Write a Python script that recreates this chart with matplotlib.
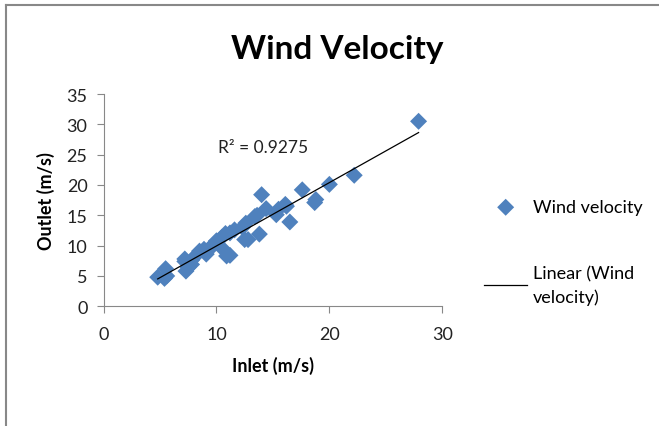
import numpy as np
import matplotlib
matplotlib.use("Agg")
import matplotlib.pyplot as plt
from matplotlib.lines import Line2D

plt.rcParams['font.family'] = ['Lato', 'DejaVu Sans']

inlet = [4.8, 5.5, 5.4, 5.6, 7.2, 7.3, 7.5, 7.2, 7.8, 7.8, 8.2, 8.5, 8.9, 9.1,
         9.4, 9.7, 10.0, 10.1, 10.5, 10.6, 10.8, 10.9, 11.2, 11.2, 11.6, 12.3,
         12.5, 12.6, 12.8, 13.4, 13.6, 13.8, 14.0, 14.4, 15.3, 15.5, 16.1,
         16.2, 16.5, 17.6, 18.7, 18.8, 20.0, 22.2, 27.9]
outlet = [4.8, 6.2, 4.6, 5.0, 7.8, 5.8, 6.4, 7.4, 6.9, 7.6, 8.4, 9.1, 9.4, 8.6,
          9.6, 10.0, 10.8, 10.7, 11.4, 9.4, 12.0, 8.3, 12.1, 8.4, 12.6, 13.0,
          11.0, 13.7, 11.0, 14.8, 15.0, 11.9, 18.4, 16.1, 15.1, 16.0, 16.8,
          16.5, 13.9, 19.2, 17.1, 17.6, 20.1, 21.6, 30.5]
x_ticks = [0, 10, 20, 30]
y_ticks = [0, 5, 10, 15, 20, 25, 30, 35]
r2_label = "R² = 0.9275"

W, H = 659, 427
fig = plt.figure(figsize=(W / 100, H / 100), dpi=100)
ax = fig.add_axes([103.5 / W, 1 - 307.3 / H, (442.3 - 103.5) / W, (307.3 - 95) / H])

blue = '#4F81BD'
ax.scatter(inlet, outlet, marker='D', s=75, color=blue, edgecolors='none', zorder=3,
           label='Wind velocity')

xa = np.array(inlet)
ya = np.array(outlet)
m, b = np.polyfit(xa, ya, 1)
xs = np.array([xa.min(), xa.max()])
ax.plot(xs, m * xs + b, color='black', lw=0.9, zorder=4, label='Linear (Wind\nvelocity)')

ax.text(14.1, 26.3, r2_label, fontsize=12.5, ha='center', va='center', color='#222222')

ax.set_xlim(0, 30)
ax.set_ylim(0, 35)
ax.set_xticks(x_ticks)
ax.set_yticks(y_ticks)
ax.tick_params(labelsize=13, colors='#888888', labelcolor='#222222', length=5, width=0.8)
ax.tick_params(axis='x', pad=9)
ax.tick_params(axis='y', pad=6.5)
for s in ['top', 'right']:
    ax.spines[s].set_visible(False)
for s in ['left', 'bottom']:
    ax.spines[s].set_color('#888888')
    ax.spines[s].set_linewidth(0.8)

ax.set_xlabel('Inlet (m/s)', fontsize=13, fontweight='bold', labelpad=10)
ax.set_ylabel('Outlet (m/s)', fontsize=13, fontweight='bold', labelpad=8)

fig.text(337 / W, 1 - 49 / H, 'Wind Velocity', fontsize=24, fontweight='bold',
         ha='center', va='center')

leg = ax.legend(loc='upper left', bbox_to_anchor=(484 / W, 1 - 200 / H),
                bbox_transform=fig.transFigure, frameon=False, fontsize=13,
                handlelength=2.4, handletextpad=0.3, labelspacing=2.8, scatterpoints=1,
                borderpad=0, borderaxespad=0)
for t in leg.get_texts():
    t.set_linespacing(1.5)

fig.add_artist(Line2D([5.5 / W, 5.5 / W], [0, 1 - 5.5 / H], color='#888888', lw=1.5))
fig.add_artist(Line2D([5.5 / W, 1], [1 - 5.5 / H, 1 - 5.5 / H], color='#888888', lw=1.5))

fig.savefig('out.png', dpi=100)
